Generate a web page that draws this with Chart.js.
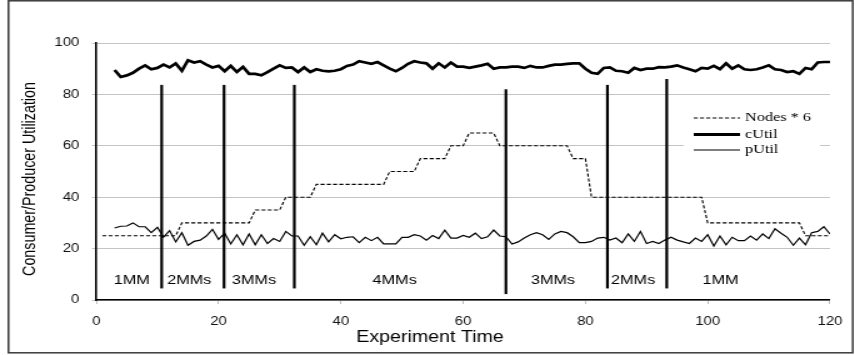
<!DOCTYPE html>
<html>
<head>
<meta charset="utf-8">
<script src="https://cdn.jsdelivr.net/npm/chart.js@4.4.1/dist/chart.umd.min.js"></script>
<style>
    html, body { margin: 0; padding: 0; background: #fff; }
</style>
</head>
<body>
<!-- the original figure is stretched sideways, so draw narrow and widen with css -->
<canvas id="chart" width="684" height="355" style="display:block;width:855px;height:355px"></canvas>
<script>
// Data
const UTIL_START = 3;   // cUtil / pUtil sampled once per time unit from 3 to 120
const NODES_START = 1;  // nodes * 6 sampled once per time unit from 1 to 120

const cUtil = [
    89.5, 86.8, 87.4, 88.4, 90.0, 91.3, 89.8, 90.3, 91.6, 90.5,
    92.0, 89.2, 93.3, 92.4, 92.9, 91.6, 90.5, 91.1, 89.0, 91.1,
    88.7, 90.7, 88.0, 88.0, 87.4, 88.7, 90.0, 91.3, 90.3, 90.5,
    88.7, 90.5, 88.7, 89.8, 89.2, 89.0, 89.2, 89.8, 91.1, 91.6,
    92.9, 92.4, 91.9, 92.6, 91.3, 90.0, 89.0, 90.3, 91.9, 92.9,
    92.4, 92.1, 90.0, 92.1, 90.5, 92.4, 90.8, 90.8, 90.3, 90.8,
    91.3, 91.9, 90.0, 90.5, 90.5, 90.8, 90.8, 90.3, 91.1, 90.5,
    90.5, 91.1, 91.6, 91.6, 91.9, 92.1, 92.1, 90.0, 88.4, 88.0,
    90.3, 90.5, 89.2, 89.0, 88.4, 90.3, 89.5, 90.0, 90.0, 90.6,
    90.5, 90.8, 91.3, 90.5, 89.8, 89.0, 90.3, 90.0, 91.1, 89.8,
    92.1, 90.0, 91.3, 89.8, 89.5, 89.8, 90.5, 91.3, 89.8, 89.5,
    88.7, 89.0, 88.0, 90.3, 89.8, 92.4, 92.6, 92.6
];

const pUtil = [
    28.0, 28.7, 28.8, 30.0, 28.5, 28.5, 26.2, 28.3, 24.5, 27.0,
    22.6, 26.2, 21.3, 22.8, 23.3, 24.9, 27.5, 23.6, 26.0, 21.8,
    25.4, 21.5, 25.7, 21.5, 25.4, 22.0, 23.9, 22.8, 26.7, 24.9,
    24.9, 21.3, 24.6, 21.5, 26.0, 22.6, 25.4, 23.8, 24.4, 24.6,
    22.3, 24.4, 23.1, 24.4, 21.8, 21.8, 21.8, 24.4, 24.4, 25.4,
    24.9, 23.3, 25.1, 23.9, 27.2, 24.1, 24.1, 25.1, 24.4, 26.0,
    23.9, 24.6, 27.2, 24.9, 24.6, 21.8, 22.6, 24.1, 25.4, 26.2,
    25.4, 23.6, 25.7, 26.7, 26.2, 24.6, 22.3, 22.3, 22.8, 24.1,
    24.4, 23.3, 24.1, 22.3, 25.7, 22.8, 26.7, 22.0, 22.8, 22.0,
    23.3, 24.4, 23.3, 22.6, 22.0, 24.1, 22.8, 25.4, 21.0, 24.9,
    21.5, 24.4, 23.1, 23.1, 24.9, 23.3, 25.7, 23.9, 27.7, 26.0,
    24.4, 21.3, 24.1, 21.5, 26.2, 26.7, 28.5, 25.7
];

const nodes6 = [
    25, 25, 25, 25, 25, 25, 25, 25, 25, 25, 25, 25, 25,
    30, 30, 30, 30, 30, 30, 30, 30, 30, 30, 30, 30,
    35, 35, 35, 35, 35,
    40, 40, 40, 40, 40,
    45, 45, 45, 45, 45, 45, 45, 45, 45, 45, 45, 45,
    50, 50, 50, 50, 50,
    55, 55, 55, 55, 55,
    60, 60, 60,
    65, 65, 65, 65, 65,
    60, 60, 60, 60, 60, 60, 60, 60, 60, 60, 60, 60,
    55, 55, 55,
    40, 40, 40, 40, 40, 40, 40, 40, 40, 40, 40, 40, 40, 40, 40, 40, 40, 40, 40,
    30, 30, 30, 30, 30, 30, 30, 30, 30, 30, 30, 30, 30, 30, 30, 30,
    25, 25, 25, 25, 25
];

// vertical markers where the number of MMs changes
const dividerX = [10.7, 20.9, 32.4, 67.0, 83.6, 93.3];
const dividerTop = [83.7, 83.7, 83.7, 82.0, 83.7, 86.0];
const dividerBottom = [4.5, 4.5, 4.5, 2.3, 4.5, 4.5];

const phaseLabels = ['1MM', '2MMs', '3MMs', '4MMs', '3MMs', '2MMs', '1MM'];
const phaseX = [5.8, 15.2, 25.8, 48.8, 74.7, 87.8, 102.1];
const PHASE_Y = 7.5;

const SANS = "'Liberation Sans', Arial, sans-serif";
const SERIF = "'Liberation Serif', 'Times New Roman', serif";

function toPoints(values, start) {
    return values.map((v, i) => ({ x: start + i, y: v }));
}

const datasets = [
    {
        label: 'Nodes * 6',
        data: toPoints(nodes6, NODES_START),
        borderColor: '#000',
        borderWidth: 1.1,
        borderDash: [3.2, 1.8]
    },
    {
        label: 'cUtil',
        data: toPoints(cUtil, UTIL_START),
        borderColor: '#000',
        borderWidth: 2.7
    },
    {
        label: 'pUtil',
        data: toPoints(pUtil, UTIL_START),
        borderColor: '#000',
        borderWidth: 1.2
    }
];

dividerX.forEach((x, i) => {
    datasets.push({
        label: 'divider',
        data: [{ x: x, y: dividerBottom[i] }, { x: x, y: dividerTop[i] }],
        borderColor: '#000',
        borderWidth: 2.2
    });
});

const decorPlugin = {
    id: 'decor',
    beforeDraw(chart) {
        const ctx = chart.ctx;
        ctx.save();
        ctx.fillStyle = '#fff';
        ctx.fillRect(0, 0, chart.width, chart.height);
        ctx.restore();
    },
    beforeDatasetsDraw(chart) {
        // legend sits on a white box over the grid
        const ctx = chart.ctx;
        ctx.save();
        ctx.fillStyle = '#fff';
        ctx.fillRect(547, 106, 109, 56);
        ctx.restore();
    },
    afterDatasetsDraw(chart) {
        const ctx = chart.ctx;
        const xs = chart.scales.x;
        const ys = chart.scales.y;
        ctx.save();

        // phase labels
        ctx.fillStyle = '#000';
        ctx.font = '13px ' + SANS;
        ctx.textAlign = 'center';
        ctx.textBaseline = 'middle';
        phaseLabels.forEach((t, i) => {
            ctx.fillText(t, xs.getPixelForValue(phaseX[i]), ys.getPixelForValue(PHASE_Y));
        });

        // legend
        const rows = [
            { text: 'Nodes * 6', width: 1.1, dash: [3.2, 1.8], y: 118 },
            { text: 'cUtil', width: 2.8, dash: [], y: 134.5 },
            { text: 'pUtil', width: 1.1, dash: [], y: 150 }
        ];
        ctx.font = '13px ' + SERIF;
        ctx.textAlign = 'left';
        rows.forEach(r => {
            ctx.beginPath();
            ctx.lineWidth = r.width;
            ctx.setLineDash(r.dash);
            ctx.strokeStyle = '#000';
            ctx.moveTo(555, r.y);
            ctx.lineTo(592, r.y);
            ctx.stroke();
            ctx.setLineDash([]);
            ctx.fillText(r.text, 596, r.y);
        });

        // axis titles
        ctx.font = '15.7px ' + SANS;
        ctx.textAlign = 'center';
        ctx.fillText('Experiment Time', 344, 338);

        ctx.translate(24, 179);
        ctx.rotate(-Math.PI / 2);
        ctx.font = '14.3px ' + SANS;
        ctx.fillText('Consumer/Producer Utilization', 0, 0);
        ctx.restore();
    },
    afterDraw(chart) {
        const ctx = chart.ctx;
        ctx.save();
        ctx.strokeStyle = '#3a3a3a';
        ctx.lineWidth = 1.5;
        ctx.strokeRect(6.8, 0.8, 675.4, 352);
        ctx.restore();
    }
};

new Chart(document.getElementById('chart'), {
    type: 'line',
    data: { datasets: datasets },
    options: {
        responsive: false,
        animation: false,
        devicePixelRatio: 1,
        layout: { padding: { left: 0, right: 17, top: 43, bottom: 0 } },
        elements: {
            point: { radius: 0 },
            line: { tension: 0, fill: false }
        },
        plugins: {
            legend: { display: false },
            tooltip: { enabled: false }
        },
        scales: {
            x: {
                type: 'linear',
                min: 0,
                max: 120,
                ticks: {
                    stepSize: 20,
                    color: '#111',
                    padding: 10,
                    maxRotation: 0,
                    font: { family: SANS, size: 12 }
                },
                grid: {
                    drawOnChartArea: false,
                    drawTicks: true,
                    tickLength: 4,
                    color: '#bdbdbd'
                },
                border: { color: '#000', width: 1.6 },
                afterFit(scale) { scale.height = 55; }
            },
            y: {
                min: 0,
                max: 100,
                ticks: {
                    stepSize: 20,
                    color: '#111',
                    padding: 10,
                    font: { family: SANS, size: 12 }
                },
                grid: {
                    color: '#c4c4c4',
                    tickLength: 3.5
                },
                border: { color: '#000', width: 1.6 },
                afterFit(scale) { scale.width = 77; }
            }
        }
    },
    plugins: [decorPlugin]
});
</script>
</body>
</html>
